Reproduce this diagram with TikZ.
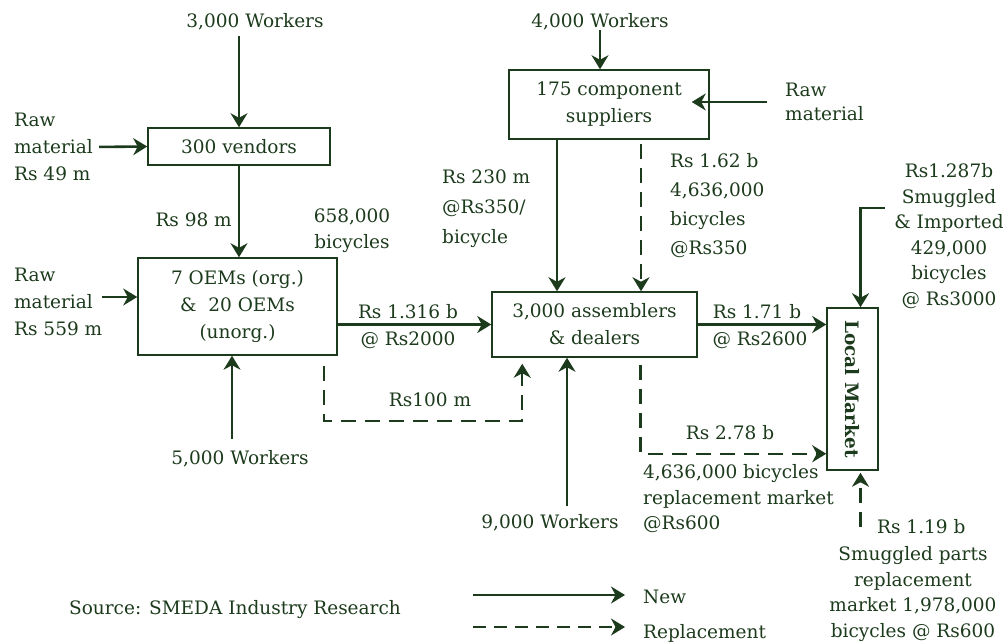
\documentclass[tikz,border=0pt]{standalone}
\usepackage{fontspec}
\setmainfont{DejaVu Serif}
\usetikzlibrary{arrows.meta}
\definecolor{ink}{RGB}{28,58,28}
\begin{document}
\begin{tikzpicture}[x=1pt,y=-1pt,
    every node/.style={text=ink,font=\fontsize{18.5}{27}\selectfont,inner sep=0pt},
    box/.style={draw=ink,line width=1.5pt,align=center},
    flow/.style={draw=ink,line width=2.6pt,-{Stealth[length=14pt,width=17pt,inset=4.5pt]}},
    feed/.style={draw=ink,line width=1.7pt,-{Stealth[length=14pt,width=17pt,inset=4.5pt]}},
    repl/.style={flow,dash pattern=on 15pt off 9pt}]
    \useasboundingbox (0,0) rectangle (1003,644);
    % Cajas
    \node[box,minimum width=182pt,minimum height=37pt] (vend) at (239,146.5) {300 vendors};
    \node[box,minimum width=199pt,minimum height=97pt] (oem) at (237.5,306.5) {7 OEMs (org.)\\\& \ 20 OEMs\\(unorg.)};
    \node[box,minimum width=200pt,minimum height=69pt] (comp) at (609,104.5) {175 component\\suppliers};
    \node[box,minimum width=205pt,minimum height=65pt] (asm) at (594.5,324.5) {3,000 assemblers\\\& dealers};
    \node[box,minimum width=51pt,minimum height=162pt] (mkt) at (852.5,389) {};
    \node[rotate=-90,font=\fontsize{18.5}{27}\selectfont\bfseries] (mktlbl) at (mkt) {Local Market};
    % Textos
    \node (w3) at (255,22) {3,000 Workers};
    \node[align=left,anchor=west] (raw1) at (14,147) {Raw\\material\\Rs 49 m};
    \node[anchor=east] (v98) at (232,220) {Rs 98 m};
    \node[align=center,font=\fontsize{18.5}{26}\selectfont] (b658) at (352,231) {658,000\\bicycles};
    \node[align=left,anchor=west] (raw2) at (14,302) {Raw\\material\\Rs 559 m};
    \node (w5) at (240,459) {5,000 Workers};
    \node (p1) at (408,312) {Rs 1.316 b};
    \node (p2) at (408,340) {@ Rs2000};
    \node (p3) at (430,400) {Rs100 m};
    \node (w4) at (600,22) {4,000 Workers};
    \node[align=left,anchor=west,font=\fontsize{18.5}{24}\selectfont] (raw3) at (785,102) {Raw\\material};
    \node[align=left,anchor=west,font=\fontsize{18.5}{30}\selectfont] (c1) at (442,209) {Rs 230 m\\@Rs350/\\bicycle};
    \node[align=left,anchor=west,font=\fontsize{18.5}{29}\selectfont] (c2) at (670,206) {Rs 1.62 b\\4,636,000\\bicycles\\@Rs350};
    \node (a1) at (757,312) {Rs 1.71 b};
    \node (a2) at (760,340) {@ Rs2600};
    \node (r278) at (730,433) {Rs 2.78 b};
    \node[align=left,anchor=west,font=\fontsize{18.5}{25.5}\selectfont] (r278b) at (643,499) {4,636,000 bicycles\\replacement market\\@Rs600};
    \node (w9) at (550,523) {9,000 Workers};
    \node[align=center,font=\fontsize{18.5}{25.5}\selectfont] (smug1) at (949,236) {Rs1.287b\\Smuggled\\\& Imported\\429,000\\bicycles\\@ Rs3000};
    \node[anchor=west] (smug2a) at (877,527) {Rs 1.19 b};
    \node[align=center,font=\fontsize{18.5}{25.5}\selectfont] (smug2) at (913,594) {Smuggled parts\\replacement\\market 1,978,000\\bicycles @ Rs600};
    \node (src) at (235,610) {Source: SMEDA Industry Research};
    \node[anchor=west] (lnew) at (643,597) {New};
    \node[anchor=west] (lrep) at (643,633) {Replacement};
    \coordinate (k1) at (885,208);
    \coordinate (l1) at (473,595);
    \coordinate (l2) at (473,627);
    % Flechas
    \draw[feed,shorten <=6pt] (w3.south -| vend.north) -- (vend.north);
    \draw[flow,shorten <=6pt] (raw1.east) -- (vend.west);
    \draw[feed] (vend.south) -- (vend.south |- oem.north);
    \draw[feed] ([yshift=5pt]raw2.east) -- ([yshift=5pt]raw2.east -| oem.west);
    \draw[feed] ([xshift=-8pt,yshift=12pt]w5.north) -- ([xshift=-8pt]w5.north |- oem.south);
    \draw[flow] (oem.east |- asm.west) -- (asm.west);
    \draw[repl,line width=2.2pt] ([xshift=-14pt,yshift=-10pt]oem.south east) |- ([xshift=31pt,yshift=-63pt]asm.south west) -- ([xshift=31pt,yshift=-6pt]asm.south west);
    \draw[feed] (w4.south) -- (w4.south |- comp.north);
    \draw[feed] ([xshift=-18pt]raw3.west) -- ([xshift=-18pt]raw3.west -| comp.east);
    \draw[flow] ([xshift=-52pt]comp.south) -- ([xshift=-52pt]comp.south |- asm.north);
    \draw[repl] ([xshift=32pt,yshift=-4pt]comp.south) -- ([xshift=32pt]comp.south |- asm.north);
    \draw[feed] ([xshift=17pt,yshift=9pt]w9.north) -- ([xshift=17pt]w9.north |- asm.south);
    \draw[flow] (asm.east) -- (asm.east -| mkt.west);
    \draw[repl,line width=2.2pt] ([xshift=46pt,yshift=-7pt]asm.south) |- ([yshift=-96pt]asm.south -| mkt.west);
    \draw[flow] (k1) -| ([xshift=8pt]mkt.north);
    \draw[repl] ([xshift=8pt]mkt.south |- smug2a) -- ([xshift=8pt,yshift=-2pt]mkt.south);
    % Leyenda
    \draw[feed] (l1) -- ([xshift=-18pt]lnew.west |- l1);
    \draw[feed,dash pattern=on 13pt off 8pt] (l2) -- ([xshift=-18pt]lrep.west |- l2);
\end{tikzpicture}
\end{document}
